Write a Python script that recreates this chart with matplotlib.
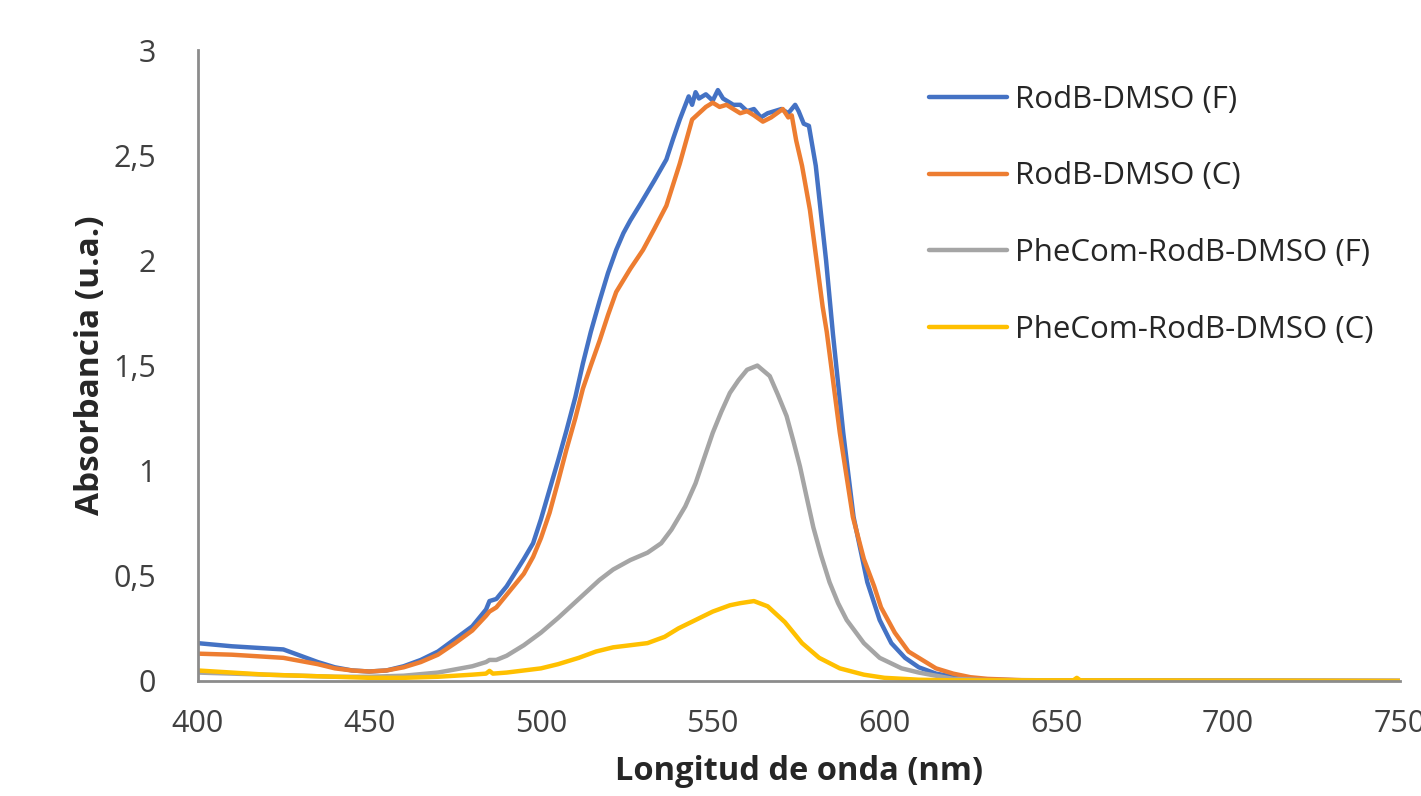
"""
Absorbancia de RodB en DMSO
"""
import matplotlib
matplotlib.use("Agg")
import matplotlib.pyplot as plt
from matplotlib.ticker import FuncFormatter

# valores (nm, u.a.)
wl_rodb_f = [400, 410, 420, 425, 430, 435, 440, 445, 450, 455, 460, 465, 470, 475, 480,
             484, 485, 487, 490, 495, 497.7, 500, 502.5, 505, 507.4, 510, 512.2, 514.5,
             517.1, 519.5, 521.9, 524, 526, 529, 533, 536.5, 538.5,
             540.4, 543, 544, 545, 546, 548, 550, 551.5, 553, 556, 558, 560, 562, 564, 566,
             568, 570, 572, 574, 575, 576.5, 578, 580, 583, 585, 588, 591, 595, 598.6, 602,
             606, 610, 615, 620, 630, 640, 650, 700, 750]
abs_rodb_f = [0.18, 0.165, 0.155, 0.15, 0.12, 0.09, 0.065, 0.05, 0.045, 0.05, 0.07, 0.10,
              0.14, 0.20, 0.26, 0.34, 0.38, 0.39, 0.45, 0.58, 0.655, 0.77, 0.91, 1.05, 1.19,
              1.35, 1.51, 1.66, 1.81, 1.94, 2.05, 2.13, 2.19, 2.27, 2.38, 2.48, 2.58, 2.67,
              2.78, 2.74, 2.80, 2.77, 2.79, 2.76, 2.81, 2.77, 2.74, 2.74, 2.71, 2.72, 2.68,
              2.70, 2.71, 2.72, 2.70, 2.74, 2.71, 2.65, 2.64, 2.45, 2.00, 1.65, 1.18, 0.78,
              0.47, 0.29, 0.18, 0.11, 0.065, 0.035, 0.02, 0.006, 0.003, 0.002, 0.001, 0.0]

wl_rodb_c = [400, 410, 420, 425, 430, 435, 440, 445, 450, 455, 460, 465, 470, 475, 480,
             484, 485, 487, 490, 495, 497.7, 500, 502.5, 505, 507.4, 510, 512.2, 514.5,
             517.1, 519.5, 521.9, 526, 529.7, 533, 536.5, 540.4,
             544, 546, 548, 550, 552, 554, 556, 558, 560, 562, 564.6, 567, 570.4, 572, 573,
             574.3, 576, 578.3, 582, 583.2, 587, 590.8, 594, 597, 599, 603, 607, 610, 615,
             620, 625, 630, 640, 660, 750]
abs_rodb_c = [0.13, 0.125, 0.115, 0.11, 0.095, 0.08, 0.06, 0.05, 0.045, 0.05, 0.065, 0.09,
              0.125, 0.18, 0.24, 0.31, 0.33, 0.35, 0.41, 0.51, 0.59, 0.68, 0.80, 0.95, 1.10,
              1.25, 1.39, 1.50, 1.62, 1.74, 1.85, 1.96, 2.05, 2.15, 2.26, 2.46, 2.67, 2.70,
              2.73, 2.75, 2.73, 2.74, 2.72, 2.70, 2.71, 2.69, 2.66, 2.68, 2.72, 2.68, 2.69,
              2.57, 2.45, 2.24, 1.78, 1.66, 1.18, 0.78, 0.58, 0.45, 0.35, 0.23, 0.14, 0.11,
              0.06, 0.035, 0.018, 0.01, 0.004, 0.002, 0.0]

wl_phe_f = [400, 420, 440, 450, 460, 470, 480, 484, 485, 487, 490, 495, 500, 505, 509, 513,
            517, 521, 526, 531, 535, 538, 542, 545, 547.5, 550, 552.5, 555, 557.5, 560, 563,
            566.6, 569, 571.5, 573.5, 575.4, 577.4, 579.3, 581.5, 584, 586.5, 589, 594,
            598.6, 605, 610, 620, 630, 750]
abs_phe_f = [0.04, 0.03, 0.02, 0.02, 0.025, 0.04, 0.07, 0.09, 0.10, 0.10, 0.12, 0.17, 0.23,
             0.30, 0.36, 0.42, 0.48, 0.53, 0.575, 0.61, 0.655, 0.72, 0.83, 0.94, 1.06, 1.18,
             1.28, 1.37, 1.43, 1.48, 1.50, 1.45, 1.36, 1.26, 1.14, 1.02, 0.87, 0.73, 0.60,
             0.47, 0.37, 0.29, 0.18, 0.11, 0.06, 0.04, 0.01, 0.004, 0.0]

wl_phe_c = [400, 410, 420, 440, 450, 460, 470, 480, 484, 485, 486, 490, 500, 505, 511, 516,
            521, 526, 531, 536, 540, 545, 550, 555, 558, 562, 566, 571, 576, 581, 587, 594,
            600, 610, 620, 655, 656, 657, 750]
abs_phe_c = [0.05, 0.04, 0.03, 0.02, 0.015, 0.015, 0.02, 0.03, 0.035, 0.048, 0.035, 0.04,
             0.06, 0.08, 0.11, 0.14, 0.16, 0.17, 0.18, 0.21, 0.25, 0.29, 0.33, 0.36, 0.37,
             0.38, 0.355, 0.28, 0.18, 0.11, 0.06, 0.03, 0.015, 0.006, 0.003, 0.003, 0.015,
             0.003, 0.0]

labels = ["RodB-DMSO (F)", "RodB-DMSO (C)", "PheCom-RodB-DMSO (F)", "PheCom-RodB-DMSO (C)"]
colors = ["#4472C4", "#ED7D31", "#A5A5A5", "#FFC000"]

plt.rcParams["font.family"] = ["Open Sans", "DejaVu Sans"]

fig = plt.figure(figsize=(14.21, 7.96), dpi=100)
ax = fig.add_axes([0.139, 0.1445, 0.846, 0.7925])

series = [(wl_rodb_f, abs_rodb_f), (wl_rodb_c, abs_rodb_c),
          (wl_phe_f, abs_phe_f), (wl_phe_c, abs_phe_c)]
for (x, y), lab, col in zip(series, labels, colors):
    ax.plot(x, y, color=col, linewidth=3.2, label=lab, solid_capstyle="round")

ax.set_xlim(400, 750)
ax.set_ylim(0, 3)
ax.set_xticks(range(400, 751, 50))
ax.set_yticks([0, 0.5, 1, 1.5, 2, 2.5, 3])
ax.yaxis.set_major_formatter(FuncFormatter(lambda v, p: f"{v:g}".replace(".", ",")))
ax.tick_params(length=0, labelsize=22, colors="#404040")
ax.tick_params(axis="x", pad=20)
ax.tick_params(axis="y", pad=30)

for s in ["top", "right"]:
    ax.spines[s].set_visible(False)
for s in ["left", "bottom"]:
    ax.spines[s].set_color("#8C8C8C")
    ax.spines[s].set_linewidth(2)

ax.set_xlabel("Longitud de onda (nm)", fontsize=23.5, fontweight="bold", color="#262626",
              labelpad=12)
ax.set_ylabel("Absorbancia (u.a.)", fontsize=24, fontweight="bold", color="#262626",
              labelpad=4)

ax.legend(loc="upper left", bbox_to_anchor=(0.585, 0.99), frameon=False, fontsize=22.5,
          handlelength=2.5, handletextpad=0.26, labelspacing=1.5, labelcolor="#262626")

plt.savefig("out.png", dpi=100)
